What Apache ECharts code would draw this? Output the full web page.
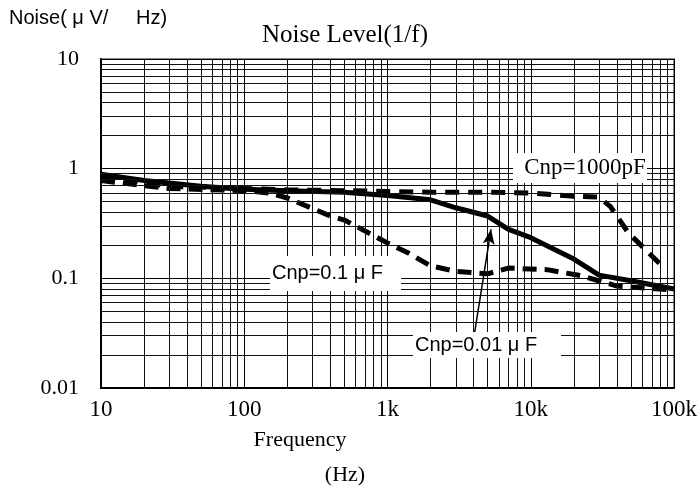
<!DOCTYPE html>
<html><head><meta charset="utf-8">
<script src="https://cdn.jsdelivr.net/npm/echarts@6/dist/echarts.min.js"></script>
<style>html,body{margin:0;padding:0;background:#fff}#c{width:700px;height:488px}</style>
</head><body><div id="c"></div>
<script>
// Axis ticks
const freqTicks = [10, 100, 1000, 10000, 100000];
const freqTickLabels = ['10', '100', '1k', '10k', '100k'];
const noiseTicks = [0.01, 0.1, 1, 10];
const noiseTickLabels = ['0.01', '0.1', '1', '10'];

// Series: Cnp = 0.01 uF (solid)
const freq001 = [10, 20, 50, 100, 200, 500, 1000, 2000, 3000, 5000, 7000, 10000, 20000, 30000, 50000, 100000];
const noise001 = [0.89, 0.78, 0.69, 0.65, 0.63, 0.61, 0.57, 0.52, 0.44, 0.37, 0.28, 0.235, 0.15, 0.107, 0.095, 0.08];

// Series: Cnp = 0.1 uF (dashed)
const freq01 = [10, 20, 30, 100, 150, 200, 400, 500, 1000, 1400, 2000, 3000, 5000, 7000, 13000, 23000, 40000, 100000];
const noise01 = [0.78, 0.70, 0.66, 0.63, 0.60, 0.54, 0.37, 0.34, 0.21, 0.17, 0.13, 0.116, 0.11, 0.124, 0.12, 0.105, 0.085, 0.078];

// Series: Cnp = 1000 pF (dashed)
const freq1000p = [10, 20, 30, 50, 100, 200, 500, 1000, 2000, 5000, 10000, 20000, 30000, 36000, 48000, 85000];
const noise1000p = [0.85, 0.75, 0.69, 0.68, 0.66, 0.64, 0.63, 0.62, 0.61, 0.61, 0.60, 0.56, 0.55, 0.45, 0.26, 0.125];

// Arrow annotation (start, tip) in data units
const arrowFreq = [4040, 5280];
const arrowNoise = [0.031, 0.28];

const zip = (xs, ys) => xs.map((x, i) => [x, ys[i]]);

// minor grid lines at 2..9 of each decade
const minorX = [], minorY = [];
for (let d = 10; d < 100000; d *= 10) for (let m = 2; m <= 9; m++) minorX.push(d * m);
for (let d = 0.01; d < 9; d *= 10) for (let m = 2; m <= 9; m++) minorY.push(+(d * m).toPrecision(3));

const chart = echarts.init(document.getElementById('c'));
const serif = '"Liberation Serif", "Times New Roman", serif';
const sans = '"Liberation Sans", Arial, sans-serif';

function boxLabel(x, y, w, h, tx, align, text, font, size) {
  return [
    { type: 'rect', z: 10, shape: { x: x, y: y, width: w, height: h }, style: { fill: '#fff' } },
    { type: 'text', z: 11, style: { x: tx, y: y + h / 2, text: text, fontFamily: font, fontSize: size, fill: '#000', align: align, verticalAlign: 'middle' } }
  ];
}

chart.setOption({
  animation: false,
  backgroundColor: '#fff',
  grid: { left: 101, right: 25, top: 59, bottom: 100, show: true, borderColor: '#888', borderWidth: 2, backgroundColor: 'transparent' },
  xAxis: {
    type: 'log', logBase: 10, min: 10, max: 100000,
    axisLine: { show: true, onZero: false, lineStyle: { color: '#000', width: 2 } },
    axisTick: { show: false },
    splitLine: { show: true, lineStyle: { color: '#000', width: 1 } },
    axisLabel: { margin: 10, fontFamily: serif, fontSize: 23, color: '#000',
      formatter: v => { const i = freqTicks.findIndex(t => Math.abs(t - v) / t < 1e-6); return i >= 0 ? freqTickLabels[i] : ''; } }
  },
  yAxis: {
    type: 'log', logBase: 10, min: 0.01, max: 10,
    axisLine: { show: true, onZero: false, lineStyle: { color: '#000', width: 2 } },
    axisTick: { show: false },
    splitLine: { show: true, lineStyle: { color: '#000', width: 1 } },
    axisLabel: { margin: 22, fontFamily: serif, fontSize: 22, color: '#000',
      formatter: v => { const i = noiseTicks.findIndex(t => Math.abs(t - v) / t < 1e-6); return i >= 0 ? noiseTickLabels[i] : ''; } }
  },
  series: [
    { type: 'line', z: 1, data: [], silent: true,
      markLine: { silent: true, symbol: 'none', label: { show: false }, animation: false,
        lineStyle: { color: '#111', width: 1, type: 'solid' },
        data: minorX.map(v => ({ xAxis: v })).concat(minorY.map(v => ({ yAxis: v }))) } },
    { name: 'Cnp=1000pF', type: 'line', z: 3, symbol: 'none', data: zip(freq1000p, noise1000p),
      lineStyle: { color: '#000', width: 5, type: [14, 9] } },
    { name: 'Cnp=0.1uF', type: 'line', z: 3, symbol: 'none', data: zip(freq01, noise01),
      lineStyle: { color: '#000', width: 5, type: [14, 8] } },
    { name: 'Cnp=0.01uF', type: 'line', z: 4, symbol: 'none', data: zip(freq001, noise001),
      lineStyle: { color: '#000', width: 5, type: 'solid' } },
    { type: 'line', z: 20, data: [], silent: true,
      markLine: { silent: true, animation: false, label: { show: false },
        symbol: ['none', 'arrow'], symbolSize: [9, 15],
        lineStyle: { color: '#000', width: 1.5, type: 'solid' },
        data: [[{ coord: [arrowFreq[0], arrowNoise[0]] }, { coord: [arrowFreq[1], arrowNoise[1]] }]] } }
  ],
  graphic: [
    { type: 'text', z: 11, style: { x: 9, y: 18, text: 'Noise( μ V/     Hz)', fontFamily: sans, fontSize: 20, fill: '#000', align: 'left', verticalAlign: 'middle' } },
    { type: 'text', z: 11, style: { x: 345, y: 35, text: 'Noise Level(1/f)', fontFamily: serif, fontSize: 25, fill: '#000', align: 'center', verticalAlign: 'middle' } },
    { type: 'text', z: 11, style: { x: 300, y: 440, text: 'Frequency', fontFamily: serif, fontSize: 22, fill: '#000', align: 'center', verticalAlign: 'middle' } },
    { type: 'text', z: 11, style: { x: 345, y: 475, text: '(Hz)', fontFamily: serif, fontSize: 22, fill: '#000', align: 'center', verticalAlign: 'middle' } }
  ].concat(
    boxLabel(513, 153, 134, 30, 585, 'center', 'Cnp=1000pF', serif, 23),
    boxLabel(270, 256, 131, 35, 272, 'left', 'Cnp=0.1 μ F', sans, 20),
    boxLabel(413, 332, 148, 26, 415, 'left', 'Cnp=0.01 μ F', sans, 20)
  )
});
</script></body></html>
